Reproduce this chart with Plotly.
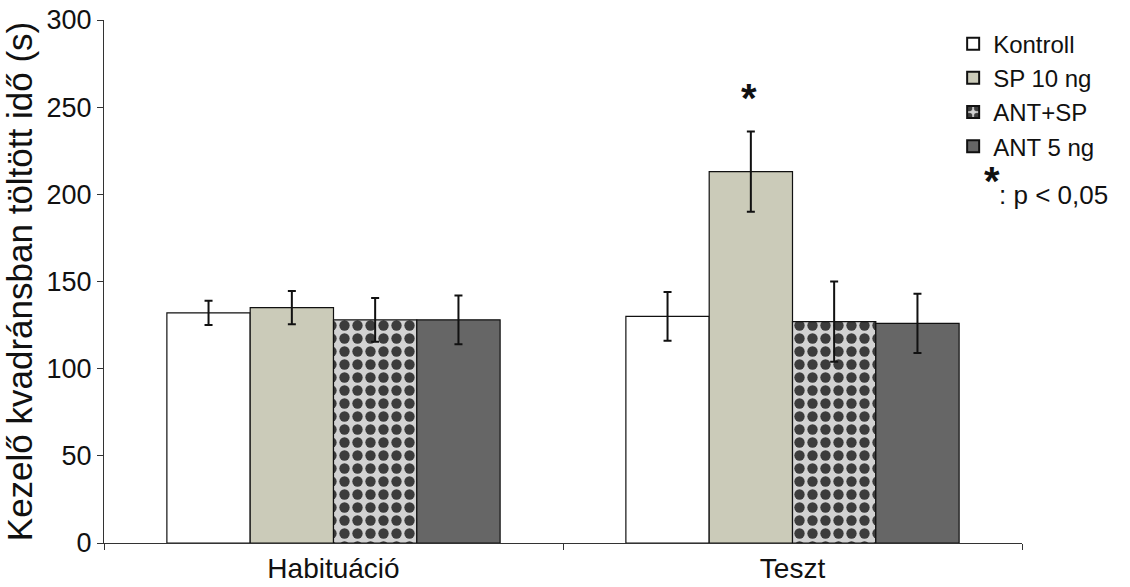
import plotly.graph_objects as go

categories = ["Habituáció", "Teszt"]
series_names = ["Kontroll", "SP 10 ng", "ANT+SP", "ANT 5 ng"]
kontroll = [132, 130]
sp10 = [135, 213]
ant_sp = [128, 127]
ant5 = [128, 126]
kontroll_err = [7, 14]
sp10_err = [9.5, 23]
ant_sp_err = [12.5, 23]
ant5_err = [14, 17]
y_ticks = [0, 50, 100, 150, 200, 250, 300]

FONT = "Liberation Sans, Arial, sans-serif"
values = [kontroll, sp10, ant_sp, ant5]
errors = [kontroll_err, sp10_err, ant_sp_err, ant5_err]
fills = ["#ffffff", "#cbcbb9", "#d0d0d0", "#666666"]
patterns = [None, None, dict(shape=".", fgcolor="#3c3c3c", bgcolor="#d2d2d2", size=13, solidity=0.5, fillmode="replace"), None]

fig = go.Figure()
for name, v, e, c, p in zip(series_names, values, errors, fills, patterns):
    marker = dict(color=c, line=dict(color="#111111", width=1.2))
    if p:
        marker["pattern"] = p
    fig.add_trace(go.Bar(
        x=categories, y=v, name=name, marker=marker,
        error_y=dict(type="data", array=e, visible=True, color="#111111", thickness=2, width=4),
    ))

fig.add_annotation(x="Teszt", y=sp10[1] + sp10_err[1], xref="x", yref="y", text="<b>*</b>",
                   showarrow=False, xshift=-44, yshift=10, yanchor="bottom",
                   font=dict(family=FONT, size=40, color="#111111"))
fig.add_annotation(x=1.0, y=0.692, xref="paper", yref="paper", text="<b>*</b>", xanchor="center",
                   showarrow=False, xshift=-30, yanchor="middle",
                   font=dict(family=FONT, size=40, color="#111111"))
fig.add_annotation(x=1.0, y=0.6655, xref="paper", yref="paper", text=": p &lt; 0,05", xanchor="left",
                   showarrow=False, xshift=-25, yanchor="middle",
                   font=dict(family=FONT, size=26, color="#111111"))

fig.update_layout(
    width=1130, height=587,
    margin=dict(l=104, r=108, t=20, b=44),
    paper_bgcolor="white", plot_bgcolor="white",
    barmode="group", bargap=0.274, bargroupgap=0,
    font=dict(family=FONT, color="#111111"),
    showlegend=True,
    legend=dict(x=0.925, y=0.997, xanchor="left", yanchor="top", font=dict(size=24, family=FONT),
                bgcolor="rgba(0,0,0,0)", tracegroupgap=0, itemsizing="constant"),
    xaxis=dict(showline=True, linecolor="#333333", linewidth=1.2, ticks="outside", tickson="boundaries",
               ticklen=6, tickcolor="#333333", tickfont=dict(size=28, family=FONT), showgrid=False,
               automargin=False),
    yaxis=dict(range=[0, 300], tickvals=y_ticks, showline=True, linecolor="#333333", linewidth=1.2,
               ticks="outside", ticklen=6, tickcolor="#333333", tickfont=dict(size=27, family=FONT),
               showgrid=False, zeroline=False, automargin=False,
               title=dict(text="Kezelő kvadránsban töltött idő (s)", font=dict(size=35, family=FONT), standoff=4)),
)

fig.write_html("out.html", config={"displayModeBar": False},
               post_script="document.body.style.margin='0';")
